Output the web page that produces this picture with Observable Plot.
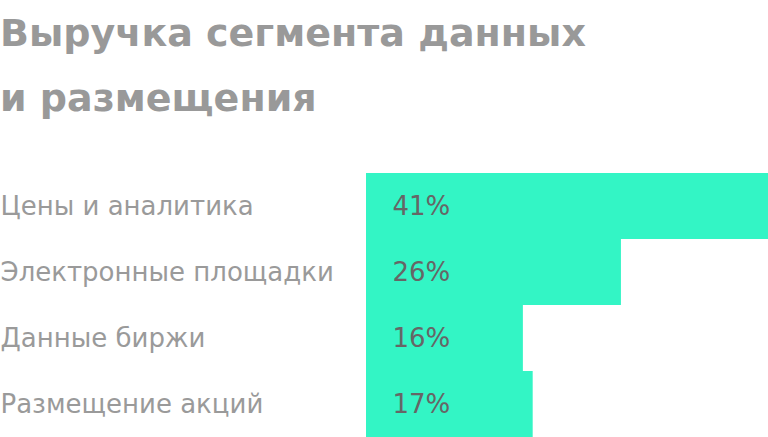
<!DOCTYPE html>
<html>
<head>
<meta charset="utf-8">
<script src="https://cdn.jsdelivr.net/npm/d3@7"></script>
<script src="https://cdn.jsdelivr.net/npm/@observablehq/plot@0.6"></script>
<style>
  html, body { margin: 0; padding: 0; background: #fff; }
  body { width: 768px; height: 437px; overflow: hidden; position: relative; font-family: "DejaVu Sans", sans-serif; }
  #title { position: absolute; left: 0; top: 0; font-weight: bold; font-size: 38px; line-height: 65px; color: #999999; margin-top: 1px; }
  #chart { position: absolute; left: 0; top: 150px; }
</style>
</head>
<body>
<div id="title">Выручка сегмента данных<br>и размещения</div>
<div id="chart"></div>
<script>
const categories = ["Цены и аналитика", "Электронные площадки", "Данные биржи", "Размещение акций"];
const shares = [41, 26, 16, 17];
const valueLabels = ["41%", "26%", "16%", "17%"];

const data = categories.map((c, i) => ({cat: c, value: shares[i], label: valueLabels[i]}));

const chart = Plot.plot({
  width: 768,
  height: 288,
  marginTop: 22,
  marginBottom: 0,
  marginLeft: 366,
  marginRight: 0,
  style: {fontFamily: "DejaVu Sans, sans-serif", background: "transparent"},
  x: {domain: [0, 41], axis: null},
  y: {domain: categories, axis: null, padding: 0},
  marks: [
    Plot.barX(data, {y: "cat", x: "value", fill: "#33F5C5"}),
    Plot.text(data, {y: "cat", text: "cat", frameAnchor: "left", textAnchor: "start", dx: -366, fontSize: 26, fill: "#9a9a9a"}),
    Plot.text(data, {y: "cat", text: "label", frameAnchor: "left", textAnchor: "start", dx: 26, fontSize: 26, fill: "#666666"})
  ]
});
document.getElementById("chart").appendChild(chart);
</script>
</body>
</html>
